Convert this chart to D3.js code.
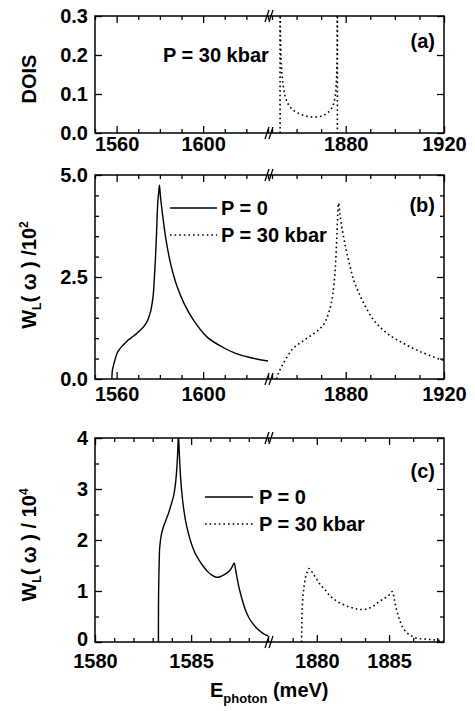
<!DOCTYPE html>
<html><head><meta charset="utf-8">
<script src="https://cdn.jsdelivr.net/npm/d3@7"></script>
<style>
body{margin:0;background:#fff}
svg{display:block}
text{font-family:"Liberation Sans",Arial,sans-serif;font-weight:bold;fill:#000}
</style>
</head><body>
<svg id="chart" width="475" height="711"></svg>
<script>
// ---------------- DATA ----------------
// Panel (a): DOIS, P = 30 kbar
const doisX = [1853.3,1853.3,1853.45,1853.7,1854.0,1854.5,1855.3,1856.5,1858.0,1860.0,1862.5,1865.0,1867.5,1870.0,1872.0,1873.5,1874.8,1875.6,1876.1,1876.4,1876.6,1876.6];
const doisY = [0,0.32,0.25,0.19,0.155,0.125,0.095,0.075,0.062,0.053,0.046,0.042,0.041,0.043,0.049,0.057,0.070,0.090,0.120,0.170,0.32,0];

// Panel (b): W_L / 10^2
const bP0X = [1557.8,1558.0,1558.6,1559.3,1560.1,1561.2,1562.4,1564.0,1565.5,1567.5,1569.4,1571.0,1572.5,1573.8,1574.8,1575.7,1576.4,1577.0,1577.4,1577.9,1578.4,1579.0,1579.4,1579.8,1580.3,1581.0,1581.8,1582.6,1583.7,1584.9,1586.4,1588.0,1591.1,1595.7,1602.0,1609.7,1615.0,1622.1,1630.0];
const bP0Y = [0,0.20,0.35,0.48,0.62,0.72,0.80,0.88,0.96,1.04,1.12,1.20,1.28,1.38,1.50,1.65,1.85,2.10,2.43,2.90,3.49,4.30,4.55,4.75,4.45,4.14,3.80,3.49,3.15,2.84,2.53,2.26,1.86,1.43,1.02,0.76,0.63,0.52,0.44];
const bP30X = [1851.9,1852.5,1853.5,1854.6,1856.3,1858.0,1860.0,1862.1,1864.2,1866.2,1868.3,1870.3,1871.8,1873.0,1874.0,1874.8,1875.7,1876.4,1877.1,1877.7,1878.4,1879.4,1880.5,1881.8,1883.2,1885.2,1887.3,1891.3,1896.8,1903.6,1910.4,1918.6,1920.0];
const bP30Y = [0,0.12,0.26,0.38,0.56,0.71,0.82,0.91,1.00,1.08,1.17,1.28,1.42,1.61,1.82,2.10,2.67,3.49,4.31,4.02,3.73,3.40,3.08,2.75,2.43,2.13,1.86,1.45,1.12,0.87,0.67,0.48,0.46];

// Panel (c): W_L / 10^4
const cP0X = [1583.30,1583.30,1583.31,1583.33,1583.37,1583.45,1583.56,1583.70,1583.82,1583.95,1584.08,1584.17,1584.25,1584.30,1584.34,1584.38,1584.43,1584.50,1584.60,1584.72,1584.86,1585.02,1585.21,1585.42,1585.64,1585.86,1586.08,1586.30,1586.51,1586.73,1586.95,1587.10,1587.24,1587.30,1587.38,1587.46,1587.55,1587.68,1587.81,1588.00,1588.25,1588.50,1588.78,1589.00];
const cP0Y = [0,0.43,1.00,1.40,1.87,2.10,2.26,2.40,2.52,2.68,2.85,3.05,3.37,3.70,4.05,3.75,3.37,3.00,2.65,2.36,2.13,1.92,1.74,1.60,1.48,1.38,1.31,1.27,1.28,1.32,1.38,1.45,1.55,1.45,1.28,1.12,0.98,0.80,0.64,0.48,0.34,0.24,0.16,0.12];
const cP30X = [1878.95,1878.97,1879.02,1879.10,1879.23,1879.35,1879.46,1879.60,1879.88,1880.20,1880.58,1880.90,1881.28,1881.70,1882.21,1882.60,1882.91,1883.25,1883.60,1883.95,1884.30,1884.65,1885.00,1885.23,1885.35,1885.47,1885.63,1885.81,1886.00,1886.28,1886.60,1886.98,1887.40,1887.80,1888.20,1888.50,1888.80];
const cP30Y = [0,0.50,0.80,1.05,1.28,1.38,1.44,1.40,1.28,1.14,1.02,0.91,0.82,0.75,0.69,0.66,0.64,0.64,0.66,0.71,0.79,0.85,0.92,0.99,0.85,0.69,0.52,0.37,0.26,0.17,0.11,0.07,0.06,0.05,0.04,0.03,0.02];

// Tick values
const abXLmajor = [1560,1600];
const abXLminor = [1550,1570,1580,1590,1610,1620,1630];
const abXRmajor = [1880,1920];
const abXRminor = [1850,1860,1870,1890,1900,1910];
const cXLmajor = [1580,1585];
const cXLminor = [1581,1582,1583,1584,1586,1587,1588,1589];
const cXRmajor = [1880,1885];
const cXRminor = [1878.333,1881.667,1883.333,1886.667,1888.333];
const aYmajor = [0,0.1,0.2,0.3];
const aYminor = [];
const bYmajor = [0,2.5,5];
const bYminor = [0.5,1,1.5,2,3,3.5,4,4.5];
const cYmajor = [0,1,2,3,4];
const cYminor = [0.5,1.5,2.5,3.5];

const legendLabels = ["P = 0","P = 30 kbar"];
const panelLabels = ["(a)","(b)","(c)"];

// ---------------- DRAW ----------------
const svg = d3.select("#chart");
const X0 = 95, XB = 270, X1 = 444;
const FS = 20;
const DOT = "1.6,3";

function panel(p, idx){
  const g = svg.append("g");
  const xL = d3.scaleLinear().domain(p.xLdom).range([X0, XB-2]);
  const xR = d3.scaleLinear().domain(p.xRdom).range([XB+2, X1]);
  const y = d3.scaleLinear().domain(p.ydom).range([p.bottom, p.top]);

  const cl = "clipL"+idx, cr = "clipR"+idx;
  const defs = svg.append("defs");
  defs.append("clipPath").attr("id",cl).append("rect")
    .attr("x",X0).attr("y",p.top).attr("width",XB-X0).attr("height",p.bottom-p.top);
  defs.append("clipPath").attr("id",cr).append("rect")
    .attr("x",XB).attr("y",p.top).attr("width",X1-XB).attr("height",p.bottom-p.top);

  const style = sel => {
    sel.select(".domain").remove();
    sel.selectAll("line").attr("stroke","#000").attr("stroke-width",1.3);
    sel.selectAll("text").attr("font-size",FS).attr("font-family","Liberation Sans, Arial, sans-serif").attr("font-weight","bold");
  };
  [[xL,p.xLmaj,p.xLmin],[xR,p.xRmaj,p.xRmin]].forEach(([s,maj,min])=>{
    g.append("g").attr("transform",`translate(0,${p.bottom})`)
      .call(d3.axisBottom(s).tickValues(maj).tickSize(-7).tickPadding(p.xpad).tickFormat(d3.format("d"))).call(style);
    g.append("g").attr("transform",`translate(0,${p.bottom})`)
      .call(d3.axisBottom(s).tickValues(min).tickSize(-4).tickFormat("")).call(style);
    g.append("g").attr("transform",`translate(0,${p.top})`)
      .call(d3.axisTop(s).tickValues(maj).tickSize(-7).tickFormat("")).call(style);
    g.append("g").attr("transform",`translate(0,${p.top})`)
      .call(d3.axisTop(s).tickValues(min).tickSize(-4).tickFormat("")).call(style);
  });
  const yl = g.append("g").attr("transform",`translate(${X0},0)`)
    .call(d3.axisLeft(y).tickValues(p.ymaj).tickSize(-7).tickPadding(7).tickFormat(p.yfmt)).call(style);
  if (p.zeroLift) yl.selectAll(".tick").filter(d=>d===0).select("text").attr("y",-p.zeroLift);
  g.append("g").attr("transform",`translate(${X0},0)`)
    .call(d3.axisLeft(y).tickValues(p.ymin).tickSize(-4).tickFormat("")).call(style);
  g.append("g").attr("transform",`translate(${X1},0)`)
    .call(d3.axisRight(y).tickValues(p.ymaj).tickSize(-7).tickFormat("")).call(style);
  g.append("g").attr("transform",`translate(${X1},0)`)
    .call(d3.axisRight(y).tickValues(p.ymin).tickSize(-4).tickFormat("")).call(style);

  g.append("rect").attr("x",X0).attr("y",p.top).attr("width",X1-X0).attr("height",p.bottom-p.top)
    .attr("fill","none").attr("stroke","#000").attr("stroke-width",1.5);

  [p.top,p.bottom].forEach(yy=>{
    [-2,2].forEach(dx=>{
      g.append("line").attr("x1",XB+dx-3).attr("y1",yy+6).attr("x2",XB+dx+1).attr("y2",yy-6)
        .attr("stroke","#000").attr("stroke-width",1.3);
    });
  });

  p.series.forEach(s=>{
    const sc = s.side==="L" ? xL : xR;
    const line = d3.line().x((d,i)=>sc(s.x[i])).y((d,i)=>y(s.y[i])).curve(d3.curveCatmullRom.alpha(0.5));
    g.append("path").attr("d",line(s.x)).attr("clip-path",`url(#${s.side==="L"?cl:cr})`)
      .attr("fill","none").attr("stroke","#000").attr("stroke-width",s.dash?1.6:1.4)
      .attr("stroke-dasharray",s.dash?DOT:null);
  });
  return g;
}

panel({top:16,bottom:133,xLdom:[1550,1630],xRdom:[1850,1920],ydom:[0,0.3],
  xLmaj:abXLmajor,xLmin:abXLminor,xRmaj:abXRmajor,xRmin:abXRminor,ymaj:aYmajor,ymin:aYminor,
  yfmt:d3.format(".1f"),xpad:4,
  series:[{x:doisX,y:doisY,side:"R",dash:true}]},0);
panel({top:175,bottom:379,xLdom:[1550,1630],xRdom:[1850,1920],ydom:[0,5],
  xLmaj:abXLmajor,xLmin:abXLminor,xRmaj:abXRmajor,xRmin:abXRminor,ymaj:bYmajor,ymin:bYminor,
  yfmt:d3.format(".1f"),xpad:8,
  series:[{x:bP0X,y:bP0Y,side:"L",dash:false},{x:bP30X,y:bP30Y,side:"R",dash:true}]},1);
panel({top:438,bottom:642,xLdom:[1580,1589],xRdom:[1876.9,1888.8],ydom:[0,4],
  xLmaj:cXLmajor,xLmin:cXLminor,xRmaj:cXRmajor,xRmin:cXRminor,ymaj:cYmajor,ymin:cYminor,
  yfmt:d3.format("d"),xpad:12,zeroLift:3,
  series:[{x:cP0X,y:cP0Y,side:"L",dash:false},{x:cP30X,y:cP30Y,side:"R",dash:true}]},2);

[[435,48],[435,212],[435,478]].forEach((pos,i)=>{
  svg.append("text").attr("x",pos[0]).attr("y",pos[1]).attr("text-anchor","end").attr("font-size",FS).text(panelLabels[i]);
});
svg.append("text").attr("x",163).attr("y",62).attr("font-size",FS).text(legendLabels[1]);

function legend(x1,x2,tx,y1,y2){
  svg.append("line").attr("x1",x1).attr("x2",x2).attr("y1",y1).attr("y2",y1).attr("stroke","#000").attr("stroke-width",1.4);
  svg.append("text").attr("x",tx).attr("y",y1+7).attr("font-size",FS).text(legendLabels[0]);
  svg.append("line").attr("x1",x1).attr("x2",x2).attr("y1",y2).attr("y2",y2).attr("stroke","#000").attr("stroke-width",1.6).attr("stroke-dasharray",DOT);
  svg.append("text").attr("x",tx).attr("y",y2+7).attr("font-size",FS).text(legendLabels[1]);
}
legend(170,217,221,208,235);
legend(205,253,259,497,524);

svg.append("text").attr("transform","translate(36,79) rotate(-90)").attr("text-anchor","middle").attr("font-size",FS).text("DOIS");
function wTitle(cx,cy,tail,sup){
  const t = svg.append("text").attr("transform",`translate(${cx},${cy}) rotate(-90)`).attr("text-anchor","middle").attr("font-size",FS);
  t.append("tspan").text("W");
  t.append("tspan").attr("dy",5).attr("font-size",12).text("L");
  t.append("tspan").attr("dy",-5).text(tail);
  t.append("tspan").attr("dy",-8).attr("font-size",12).text(sup);
}
wTitle(36,275,"( ω ) /10","2");
wTitle(36,545,"( ω ) / 10","4");

const xt = svg.append("text").attr("x",210).attr("y",697).attr("font-size",FS);
xt.append("tspan").text("E");
xt.append("tspan").attr("dy",6).attr("font-size",13).text("photon");
xt.append("tspan").attr("dy",-6).text(" (meV)");
</script>
</body></html>
